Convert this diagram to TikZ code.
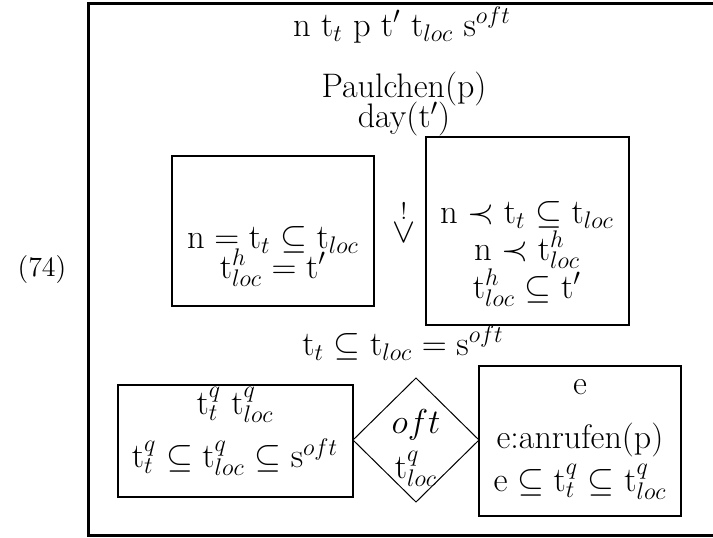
\documentclass[tikz,border=0pt]{standalone}
\usepackage{tikz}
\usetikzlibrary{positioning}
\newcommand{\rt}{\mathrm{t}}
\tikzset{
  outer/.style={draw=black, line width=1.5pt},
  drsbox/.style={draw=black, line width=1.1pt},
  dmd/.style={draw=black, line width=0.5pt},
  cond/.style={font=\fontsize{17}{20}\selectfont, inner sep=0pt, align=center}
}
\begin{document}
\begin{tikzpicture}[x=0.5pt, y=-0.5pt]
  \useasboundingbox (0,0) rectangle (713,537);
  \draw[outer] (713,3) -- (88,3) -- (88,535) -- (713,535);
  \node[cond, font=\fontsize{14}{17}\selectfont] (num) at (42,270) {(74)};
  \node[cond] (univ) at (402,25) {$\mathrm{n}\ \rt_t\ \mathrm{p}\ \rt'\ \rt_{loc}\ \mathrm{s}^{oft}$};
  \node[cond] (paul) at (404,89) {Paulchen(p)};
  \node[cond] (day) at (404,119) {day(t$'$)};

  % conditional
  \draw[drsbox] (172,156) rectangle (374,306);
  \node[cond] (antA) at (273,240) {$\mathrm{n} = \rt_t \subseteq \rt_{loc}$};
  \node[cond] (antB) at (273,268) {$\rt^h_{loc} = \rt'$};
  \node[cond] (impl) at (404,222) {$\stackrel{!}{\vee}$};
  \draw[drsbox] (426,137) rectangle (629,325);
  \node[cond] (conA) at (527,215) {$\mathrm{n} \prec \rt_t \subseteq \rt_{loc}$};
  \node[cond] (conB) at (527,250) {$\mathrm{n} \prec \rt^h_{loc}$};
  \node[cond] (conC) at (527,288) {$\rt^h_{loc} \subseteq \rt'$};
  \node[cond] (incl) at (403,343) {$\rt_t \subseteq \rt_{loc} = \mathrm{s}^{oft}$};

  % quantification
  \draw[drsbox] (118,385) rectangle (353,497);
  \node[cond] (restA) at (235,405) {$\rt^q_t\ \rt^q_{loc}$};
  \node[cond] (restB) at (235,457) {$\rt^q_t \subseteq \rt^q_{loc} \subseteq \mathrm{s}^{oft}$};
  \draw[dmd] (353,440) -- (416,378) -- (479,440) -- (416,502) -- cycle;
  \node[cond] (quant) at (416,425) {$oft$};
  \node[cond] (qvar) at (416,469) {$\rt^q_{loc}$};
  \draw[drsbox] (479,366) rectangle (681,516);
  \node[cond] (scopeA) at (580,387) {e};
  \node[cond] (scopeB) at (580,440) {e:anrufen(p)};
  \node[cond] (scopeC) at (580,482) {$\mathrm{e} \subseteq \rt^q_t \subseteq \rt^q_{loc}$};
\end{tikzpicture}
\end{document}
